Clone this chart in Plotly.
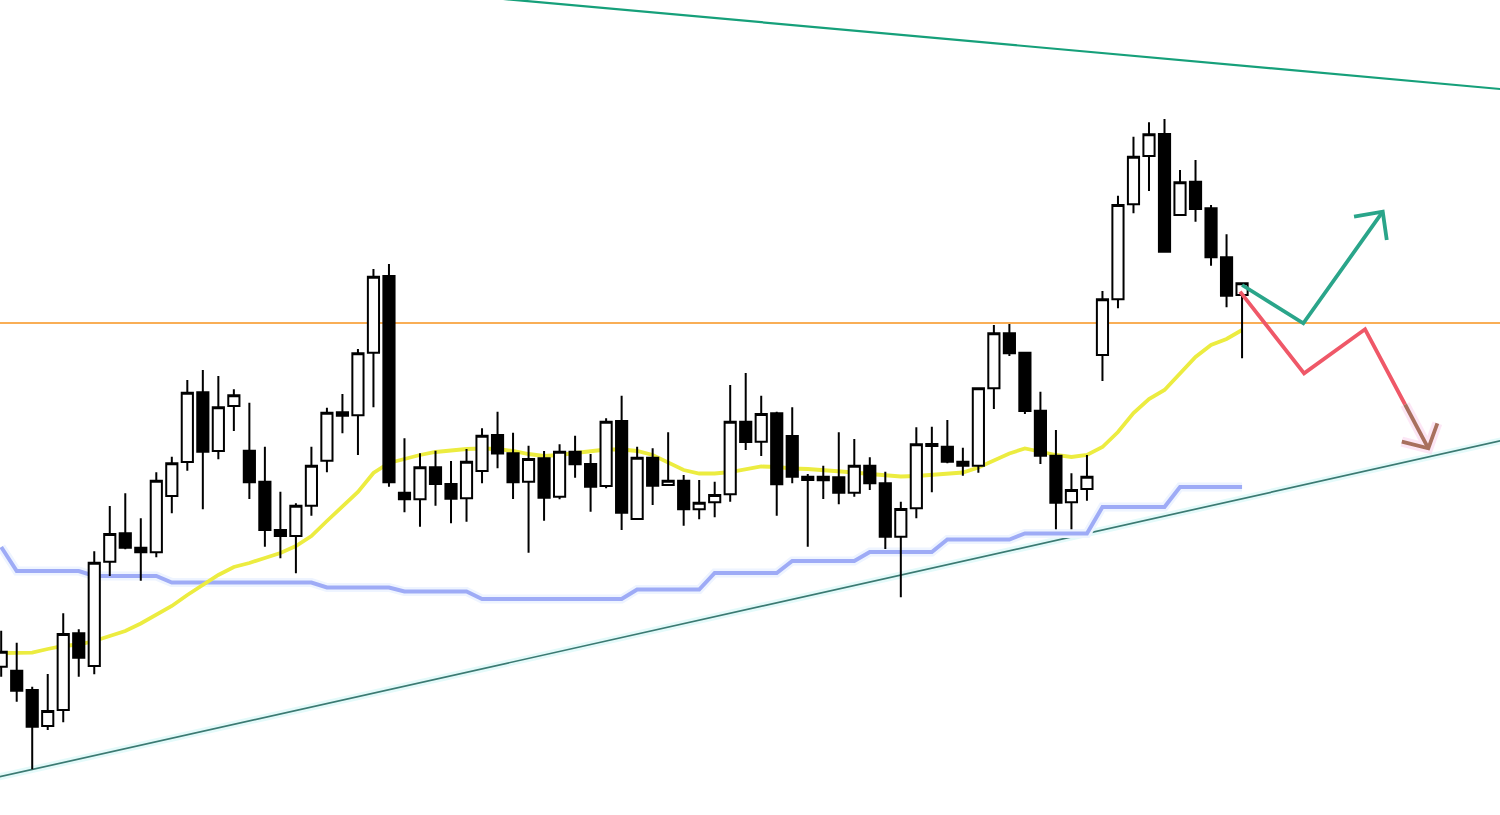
import plotly.graph_objects as go

# ---- candle data (price units, index = bar number) ----
bar_index = list(range(81))
opens = [148.3, 144.3, 125.0, 89.0, 105.0, 181.7, 149.0, 253.3, 281.7, 267.3,
         262.7, 319.0, 353.0, 422.7, 364.0, 409.0, 364.3, 333.3, 285.0, 279.0,
         309.3, 354.3, 402.7, 399.7, 462.3, 539.0, 322.3, 315.7, 347.7, 331.0,
         316.7, 344.0, 380.0, 361.7, 333.3, 356.7, 318.3, 363.3, 351.0, 329.0,
         394.0, 296.0, 357.3, 330.0, 334.3, 305.7, 312.7, 320.7, 393.3, 373.3,
         401.7, 379.0, 338.3, 338.3, 337.7, 322.3, 349.3, 331.7, 278.3, 306.7,
         371.0, 368.3, 353.3, 349.3, 426.7, 481.7, 462.3, 404.3, 359.3, 312.7,
         326.0, 460.0, 515.7, 610.7, 659.0, 681.0, 600.0, 633.3, 606.7, 557.7,
         520.0]
highs = [184.3, 172.3, 128.3, 141.0, 201.7, 185.7, 263.7, 309.0, 321.7, 296.7,
         342.7, 358.3, 435.0, 445.0, 439.0, 425.7, 412.3, 368.3, 323.3, 311.7,
         368.3, 407.3, 421.0, 466.0, 546.0, 551.0, 376.7, 361.7, 364.3, 354.0,
         366.0, 386.7, 403.3, 382.3, 369.3, 364.0, 370.7, 379.3, 361.0, 396.7,
         419.3, 368.3, 366.7, 382.7, 340.0, 335.0, 333.3, 430.0, 442.0, 419.3,
         403.3, 407.7, 341.0, 349.3, 382.7, 376.0, 357.7, 343.3, 313.3, 387.7,
         388.3, 395.0, 367.3, 427.7, 490.0, 491.0, 463.3, 423.3, 385.0, 341.7,
         360.0, 524.0, 619.3, 678.3, 692.7, 696.0, 645.0, 655.0, 610.0, 580.7,
         531.7]
lows = [138.3, 113.3, 45.7, 85.0, 92.7, 138.3, 140.7, 239.0, 265.7, 234.3,
        257.7, 301.7, 344.3, 305.7, 355.7, 384.0, 316.0, 268.3, 256.7, 241.7,
        299.3, 342.7, 381.7, 360.0, 407.7, 328.3, 302.7, 288.3, 309.3, 291.7,
        293.3, 331.7, 346.7, 316.0, 262.3, 294.3, 315.7, 337.3, 303.3, 326.7,
        285.0, 296.0, 310.0, 329.0, 289.3, 295.7, 297.7, 313.3, 365.0, 359.0,
        299.3, 331.7, 268.3, 316.0, 310.7, 318.3, 325.0, 266.0, 217.7, 296.7,
        322.7, 351.7, 339.3, 342.3, 406.0, 459.0, 401.0, 351.0, 285.7, 285.7,
        314.3, 434.0, 506.7, 601.7, 624.0, 562.3, 600.0, 593.3, 549.3, 507.7,
        456.7]
closes = [163.3, 124.3, 88.3, 104.0, 181.0, 157.3, 252.3, 281.0, 267.3, 262.7,
          334.3, 351.7, 422.3, 363.3, 407.7, 419.7, 332.7, 285.0, 279.0, 309.3,
          349.3, 402.3, 399.3, 461.7, 538.3, 332.7, 315.7, 347.7, 331.0, 316.3,
          353.3, 379.3, 361.5, 332.7, 356.0, 317.3, 363.3, 350.7, 328.3, 393.3,
          302.3, 357.3, 329.3, 334.3, 305.7, 312.3, 320.0, 393.3, 373.0, 401.0,
          330.7, 338.3, 335.0, 334.7, 322.3, 349.3, 331.7, 278.3, 306.0, 370.7,
          369.0, 353.3, 349.3, 426.7, 481.7, 461.7, 404.0, 359.3, 312.3, 325.0,
          338.3, 515.7, 610.0, 658.3, 680.7, 563.3, 632.7, 606.0, 557.7, 519.3,
          531.7]

# ---- indicator lines ----
moving_avg = [162, 162, 162.3, 166, 169, 170.5, 174, 179, 184, 191.5,
              200, 209, 220, 230, 240, 248, 252, 257, 262, 269,
              279, 294, 308, 323, 342, 352, 356, 360, 363, 364.5,
              366, 366.5, 366, 364, 361, 359, 360, 362, 364, 365.5,
              365.5, 364, 360, 353, 345, 341.5, 341.5, 343, 346, 348.5,
              348, 346.5, 346, 345, 344, 342.5, 341, 339.5, 338.5, 339,
              340, 341, 342.5, 347.5, 354, 361.5, 366.5, 363.5, 360, 358,
              360, 368, 383, 402, 416, 425, 442, 458, 470, 476,
              485]
base_line = [268, 244, 244, 244, 244, 244, 239, 239, 239, 239,
             239, 232.5, 232.5, 232.5, 232.5, 232.5, 232.5, 232.5, 232.5, 232.5,
             232.5, 227.5, 227.5, 227.5, 227.5, 227.5, 223.5, 223.5, 223.5, 223.5,
             223.5, 216, 216, 216, 216, 216, 216, 216, 216, 216,
             216, 225.5, 225.5, 225.5, 225.5, 225.5, 242, 242, 242, 242,
             242, 254, 254, 254, 254, 254, 263, 263, 263, 263,
             263, 275.5, 275.5, 275.5, 275.5, 275.5, 281.5, 281.5, 281.5, 281.5,
             281.5, 308, 308, 308, 308, 308, 328, 328, 328, 328,
             328]
resistance_level = 492.0

# ---- drawn trend lines and scenario arrows (index, price) ----
upper_trend_i = [30, 97]
upper_trend_p = [819.4, 725.5]
lower_trend_i = [-1, 97]
lower_trend_p = [35.1, 375.3]
bull_path_i = [80.0, 83.95, 89.07]
bull_path_p = [530.0, 491.7, 603.3]
bull_head_i = [87.22, 89.07, 89.33]
bull_head_p = [598.3, 603.3, 575.0]
bear_path_i = [79.87, 84.0, 87.93, 90.51]
bear_path_p = [523.3, 441.7, 485.7, 410.5]
bear_tail_i = [90.51, 92.01]
bear_tail_p = [410.5, 366.7]
bear_head_i = [90.3, 92.01, 92.59]
bear_head_p = [373.3, 366.7, 391.7]

X_RANGE = [-0.077, 96.63]
Y_RANGE = [0, 815]

fig = go.Figure()

def line(x, y, color, width, axes=("x", "y")):
    fig.add_trace(go.Scatter(x=x, y=y, mode="lines", xaxis=axes[0], yaxis=axes[1],
                             line=dict(color=color, width=width),
                             hoverinfo="skip", showlegend=False))

# base layer: indicators and trend lines
line(lower_trend_i, lower_trend_p, "#e4fafa", 7)
line(lower_trend_i, lower_trend_p, "#3b7a72", 1.7)
line(upper_trend_i, upper_trend_p, "#16a07a", 2.2)
line([X_RANGE[0] - 1, X_RANGE[1] + 1], [resistance_level, resistance_level], "#f7931e", 1.7)
line(bar_index, base_line, "#eef4ff", 9)
line(bar_index, base_line, "#9eabf6", 4)
line(bar_index, moving_avg, "#ecec40", 3.8)

# candles on overlay axes
fig.add_trace(go.Candlestick(
    x=bar_index, open=opens, high=highs, low=lows, close=closes,
    xaxis="x2", yaxis="y2", whiskerwidth=0,
    increasing=dict(line=dict(color="#000000", width=2), fillcolor="#ffffff"),
    decreasing=dict(line=dict(color="#000000", width=2), fillcolor="#000000"),
    hoverinfo="skip", showlegend=False))

# arrows on top overlay
A = ("x3", "y3")
line(bear_tail_i + bear_head_i, bear_tail_p + bear_head_p, "rgba(250,205,235,0.5)", 10, A)
line(bull_path_i, bull_path_p, "#2aa58a", 3.8, A)
line(bull_head_i, bull_head_p, "#2aa58a", 3.8, A)
line(bear_path_i, bear_path_p, "#ef5868", 3.8, A)
line(bear_tail_i, bear_tail_p, "#a8705e", 3.8, A)
line(bear_head_i, bear_head_p, "#a8705e", 3.8, A)

ax = dict(visible=False, showgrid=False, zeroline=False, fixedrange=True)
fig.update_layout(
    width=1500, height=815,
    margin=dict(l=0, r=0, t=0, b=0),
    paper_bgcolor="#ffffff", plot_bgcolor="#ffffff",
    showlegend=False, boxgap=0.28, boxgroupgap=0,
    xaxis=dict(range=X_RANGE, **ax),
    yaxis=dict(range=Y_RANGE, **ax),
    xaxis2=dict(range=X_RANGE, overlaying="x", rangeslider=dict(visible=False), **ax),
    yaxis2=dict(range=Y_RANGE, overlaying="y", **ax),
    xaxis3=dict(range=X_RANGE, overlaying="x", **ax),
    yaxis3=dict(range=Y_RANGE, overlaying="y", **ax),
)

fig.write_html("out.html", config={"displayModeBar": False},
               post_script="document.body.style.margin='0';document.body.style.overflow='hidden';")
